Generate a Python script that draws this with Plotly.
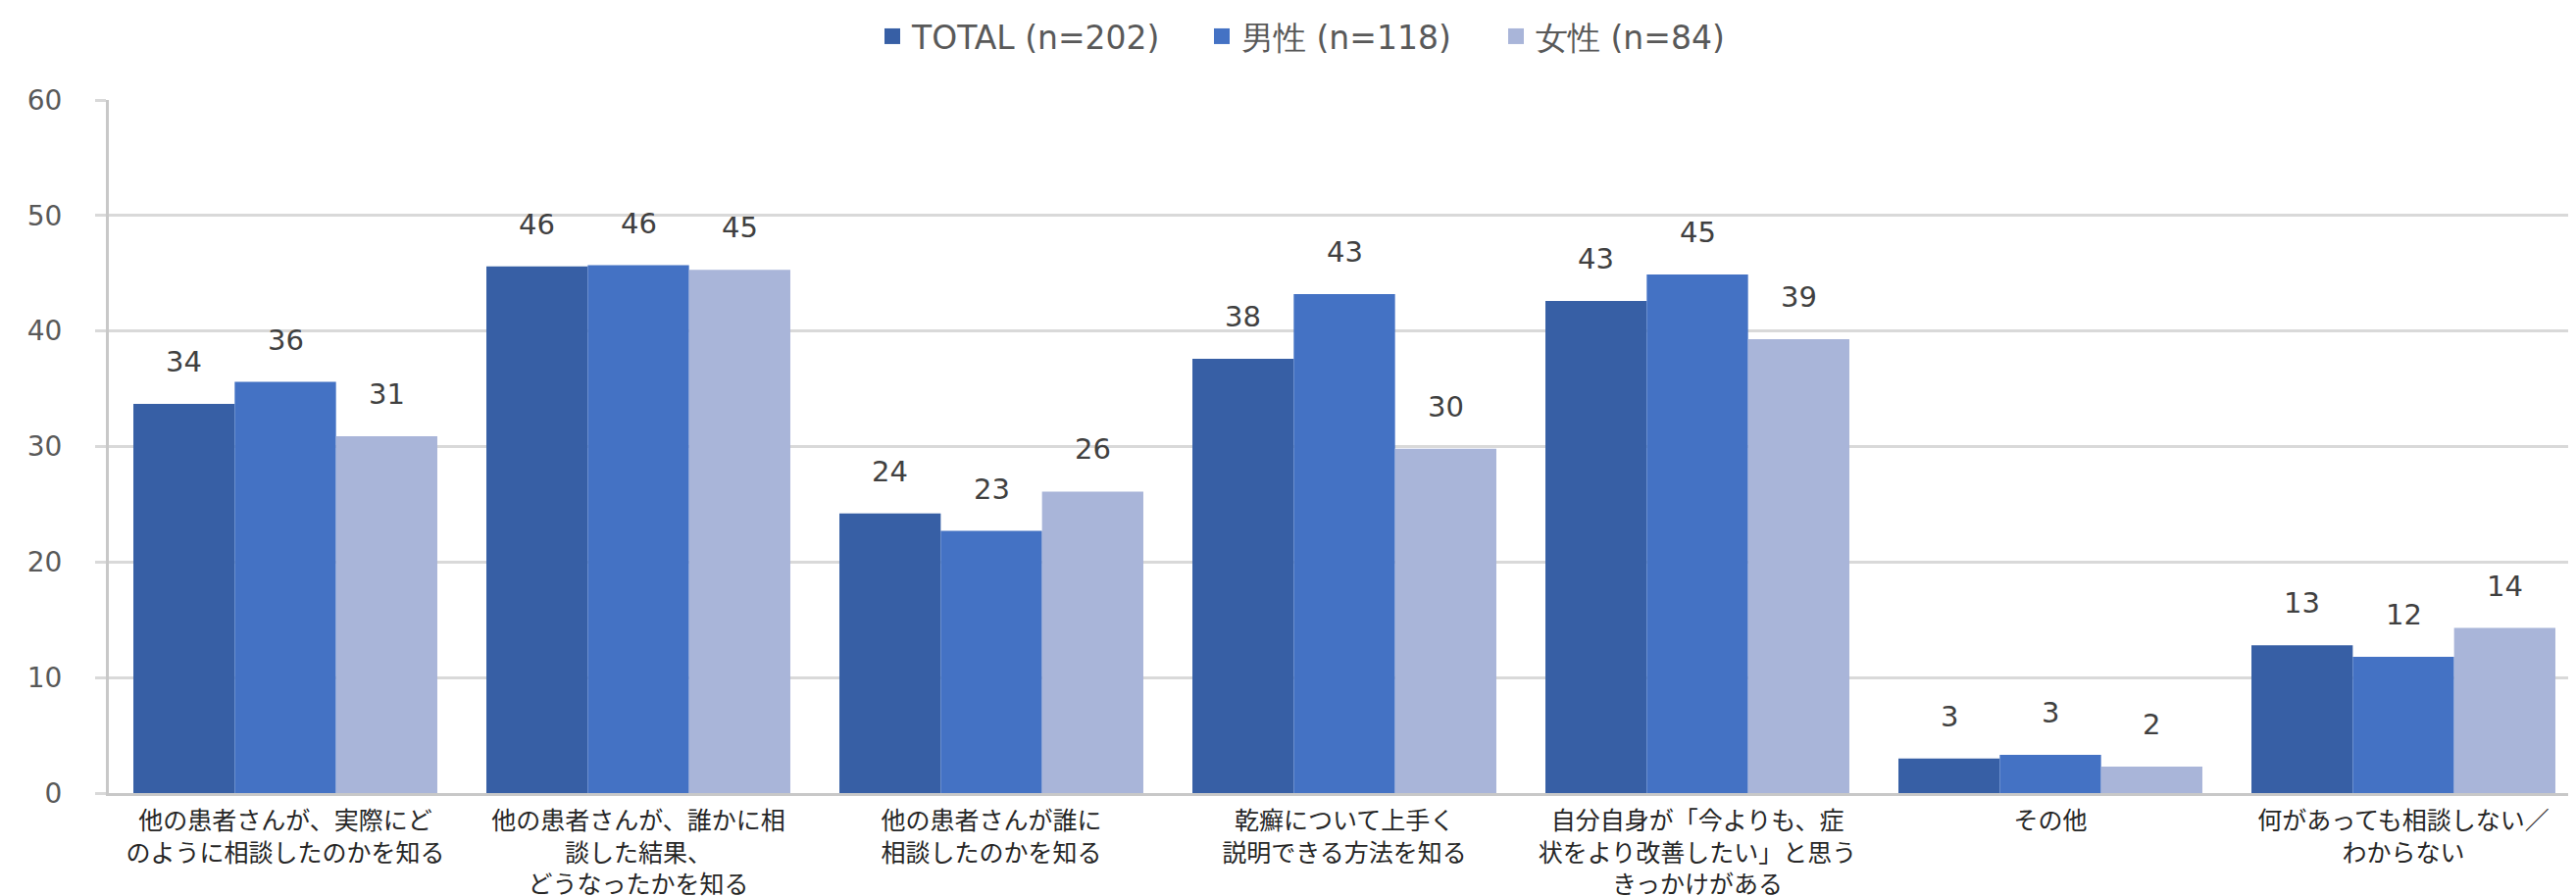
import plotly.graph_objects as go

categories = [
    "他の患者さんが、実際にど<br>のように相談したのかを知る",
    "他の患者さんが、誰かに相<br>談した結果、<br>どうなったかを知る",
    "他の患者さんが誰に<br>相談したのかを知る",
    "乾癬について上手く<br>説明できる方法を知る",
    "自分自身が「今よりも、症<br>状をより改善したい」と思う<br>きっかけがある",
    "その他",
    "何があっても相談しない／<br>わからない",
]
series_names = ["TOTAL (n=202)", "男性 (n=118)", "女性 (n=84)"]
total_vals = [33.7, 45.6, 24.2, 37.6, 42.6, 3.0, 12.8]
male_vals = [35.6, 45.7, 22.7, 43.2, 44.9, 3.3, 11.8]
female_vals = [30.9, 45.3, 26.1, 29.8, 39.3, 2.3, 14.3]
colors = ["#375FA5", "#4472C4", "#A9B5D9"]
y_ticks = [0, 10, 20, 30, 40, 50, 60]

W, H = 2627, 914
ML, MR, MT, MB = 103, 4, 94, 108
BARGAP = 0.139
legend_ids = ["legend", "legend2", "legend3"]
legend_left_px = [882, 1218, 1518]

fig = go.Figure()
all_vals = [total_vals, male_vals, female_vals]
for name, vals, col, lid in zip(series_names, all_vals, colors, legend_ids):
    fig.add_trace(go.Bar(x=categories, y=vals, name=name, marker_color=col,
                         marker_line_width=0, showlegend=False))
    # legend proxy with a larger square symbol
    fig.add_trace(go.Scatter(x=[None], y=[None], mode="markers", name=name,
                             legend=lid,
                             marker=dict(symbol="square", size=16, color=col)))

plot_w = W - ML - MR
bar_w = plot_w / len(categories) * (1 - BARGAP) / 3
for i, vals in enumerate(all_vals):
    for cat, v in zip(categories, vals):
        fig.add_annotation(x=cat, y=v, text=f"{v:.0f}", showarrow=False,
                           xshift=(i - 1) * bar_w, yshift=24, yanchor="bottom",
                           font=dict(family="DejaVu Sans", size=29, color="#404040"))

legend_style = dict(orientation="h", xref="container", yref="container",
                    xanchor="left", yanchor="middle", y=1 - 29 / H,
                    font=dict(family="DejaVu Sans", size=33, color="#595959"),
                    itemsizing="trace", itemwidth=30, bgcolor="rgba(0,0,0,0)")
layout_legends = {lid: dict(legend_style, x=px / W)
                  for lid, px in zip(legend_ids, legend_left_px)}

fig.update_layout(
    width=W, height=H,
    margin=dict(l=ML, r=MR, t=MT, b=MB, pad=0),
    barmode="group", bargap=BARGAP, bargroupgap=0,
    plot_bgcolor="white", paper_bgcolor="white",
    **layout_legends,
)
fig.update_yaxes(range=[0, 60], tickvals=y_ticks, showgrid=True,
                 gridcolor="#D9D9D9", gridwidth=3,
                 showline=True, linecolor="#C8C8C8", linewidth=3,
                 ticks="outside", ticklen=11, tickcolor="#D9D9D9", tickwidth=3,
                 ticklabelstandoff=28, zeroline=False,
                 tickfont=dict(family="DejaVu Sans", size=28, color="#595959"))
fig.update_xaxes(showline=True, linecolor="#C8C8C8", linewidth=3, ticks="",
                 tickangle=0, ticklabelstandoff=4,
                 tickfont=dict(family="Noto Sans CJK JP", size=25, color="#262626"))

fig.write_html("out.html")
